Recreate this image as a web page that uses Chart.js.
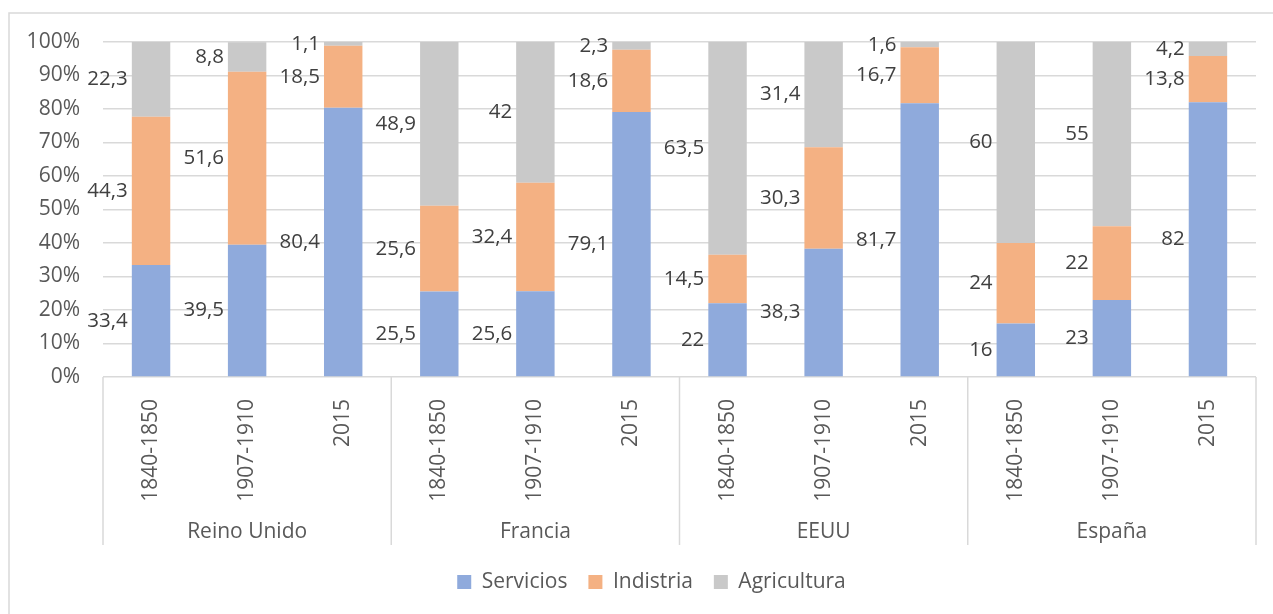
<!DOCTYPE html>
<html>
<head>
<meta charset="utf-8">
<script src="https://cdn.jsdelivr.net/npm/chart.js@4.4.1/dist/chart.umd.min.js"></script>
<style>
  html, body { margin: 0; padding: 0; background: #ffffff; }
  canvas { display: block; }
</style>
</head>
<body>
<canvas id="grafico" width="1273" height="614"></canvas>
<script>
// Sectores económicos por país y periodo (porcentaje de población activa)
const paises = ['Reino Unido', 'Francia', 'EEUU', 'España'];
const periodos = ['1840-1850', '1907-1910', '2015'];

const servicios   = [33.4, 39.5, 80.4, 25.5, 25.6, 79.1, 22, 38.3, 81.7, 16, 23, 82];
const indistria   = [44.3, 51.6, 18.5, 25.6, 32.4, 18.6, 14.5, 30.3, 16.7, 24, 22, 13.8];
const agricultura = [22.3, 8.8, 1.1, 48.9, 42, 2.3, 63.5, 31.4, 1.6, 60, 55, 4.2];

const FUENTE = '"Open Sans", "Noto Sans", sans-serif';
const TAM = 21;
const GRIS_TEXTO = '#595959';
const GRIS_LINEA = '#d9d9d9';

// marco del gráfico: borde izquierdo y superior, centro horizontal
const MARCO_X = 9, MARCO_Y = 13, MARCO_CENTRO = 651.5;

// una etiqueta de periodo por columna, agrupadas por país
const etiquetas = paises.flatMap(() => periodos);

const numero = v => String(v).replace('.', ',');

// marco exterior del gráfico
const marco = {
  id: 'marco',
  beforeDraw(chart) {
    const ctx = chart.ctx;
    ctx.save();
    ctx.fillStyle = '#ffffff';
    ctx.fillRect(0, 0, chart.width, chart.height);
    ctx.strokeStyle = GRIS_LINEA;
    ctx.lineWidth = 1.5;
    ctx.beginPath();
    ctx.moveTo(MARCO_X, chart.height);
    ctx.lineTo(MARCO_X, MARCO_Y);
    ctx.lineTo(chart.width, MARCO_Y);
    ctx.stroke();
    ctx.restore();
  }
};

// la leyenda se centra respecto al marco completo
const leyendaCentrada = {
  id: 'leyendaCentrada',
  afterLayout(chart) {
    const ley = chart.legend;
    if (!ley) return;
    const d = MARCO_CENTRO - (ley.left + ley.right) / 2;
    ley.left += d;
    ley.right += d;
  }
};

// segundo nivel del eje de categorías: separadores y nombres de país
const ejePaises = {
  id: 'ejePaises',
  afterDraw(chart) {
    const x = chart.scales.x;
    const area = chart.chartArea;
    const ctx = chart.ctx;
    const paso = (x.right - x.left) / etiquetas.length;
    const n = periodos.length;
    const fondo = area.bottom + 168;
    ctx.save();
    ctx.strokeStyle = GRIS_LINEA;
    ctx.lineWidth = 1.5;
    for (let g = 0; g <= paises.length; g++) {
      const px = x.getPixelForValue(g * n) - paso / 2;
      ctx.beginPath();
      ctx.moveTo(px, area.bottom);
      ctx.lineTo(px, fondo);
      ctx.stroke();
    }
    ctx.font = TAM + 'px ' + FUENTE;
    ctx.fillStyle = GRIS_TEXTO;
    ctx.textAlign = 'center';
    ctx.textBaseline = 'middle';
    paises.forEach((p, g) => {
      const centro = (x.getPixelForValue(g * n) + x.getPixelForValue(g * n + n - 1)) / 2;
      ctx.fillText(p, centro, area.bottom + 155);
    });
    ctx.restore();
  }
};

// valores de cada tramo, a la izquierda de su columna
const valores = {
  id: 'valores',
  afterDatasetsDraw(chart) {
    const ctx = chart.ctx;
    ctx.save();
    ctx.font = '20.5px ' + FUENTE;
    ctx.fillStyle = '#404040';
    ctx.textAlign = 'right';
    ctx.textBaseline = 'middle';
    chart.data.datasets.forEach((ds, di) => {
      const meta = chart.getDatasetMeta(di);
      meta.data.forEach((barra, i) => {
        const { x, y, base, width } = barra.getProps(['x', 'y', 'base', 'width'], true);
        ctx.fillText(numero(ds.data[i]), x - width / 2 - 4, (y + base) / 2);
      });
    });
    ctx.restore();
  }
};

function dibujar() {
  new Chart(document.getElementById('grafico'), {
    type: 'bar',
    data: {
      labels: etiquetas,
      datasets: [
        { label: 'Servicios',   data: servicios,   backgroundColor: '#8FAADC' },
        { label: 'Indistria',   data: indistria,   backgroundColor: '#F4B183' },
        { label: 'Agricultura', data: agricultura, backgroundColor: '#C9C9C9' }
      ]
    },
    options: {
      responsive: false,
      animation: false,
      events: [],
      datasets: { bar: { barPercentage: 0.4, categoryPercentage: 1.0, borderWidth: 0 } },
      layout: { padding: { left: 18, right: 17, top: 42, bottom: 11.5 } },
      scales: {
        x: {
          stacked: true,
          grid: { display: false },
          border: { display: false },
          ticks: {
            autoSkip: false,
            minRotation: 90,
            maxRotation: 90,
            padding: 14,
            color: GRIS_TEXTO,
            font: { family: FUENTE, size: TAM }
          },
          afterFit(scale) { scale.height = 173.5; }
        },
        y: {
          stacked: true,
          min: 0,
          max: 100,
          grid: { color: GRIS_LINEA, lineWidth: 1.5, drawTicks: false },
          border: { display: false },
          ticks: {
            stepSize: 10,
            padding: 23,
            color: GRIS_TEXTO,
            font: { family: FUENTE, size: TAM },
            callback: v => v + '%'
          },
          afterFit(scale) { scale.width = 85; }
        }
      },
      plugins: {
        legend: {
          position: 'bottom',
          labels: {
            boxWidth: 14,
            boxHeight: 14,
            padding: 21,
            color: GRIS_TEXTO,
            font: { family: FUENTE, size: TAM }
          }
        },
        tooltip: { enabled: false }
      }
    },
    plugins: [marco, leyendaCentrada, ejePaises, valores]
  });
}

if (document.fonts && document.fonts.load) {
  document.fonts.load(TAM + 'px "Open Sans"').then(dibujar, dibujar);
} else {
  dibujar();
}
</script>
</body>
</html>
